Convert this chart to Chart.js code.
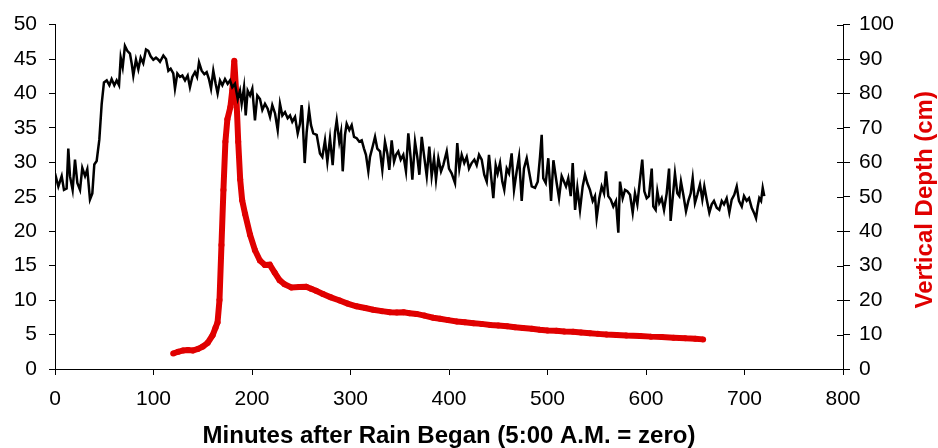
<!DOCTYPE html>
<html><head><meta charset="utf-8">
<script src="https://cdn.jsdelivr.net/npm/chart.js@4"></script>
<style>html,body{margin:0;padding:0;background:#fff}</style>
</head><body>
<canvas id="c" width="938" height="448"></canvas>
<script>
const xTitle = 'Minutes after Rain Began (5:00 A.M. = zero)';
const rightTitle = 'Vertical Depth (cm)';

const blackX = [0,3.4,6.8,9.1,11.8,13.5,15.2,17.9,20.3,22.7,25.4,27.7,30.5,32.8,35.5,37.9,39.9,42.3,45,47.4,49.7,52.5,55.2,57.5,60.2,62.6,65,66.7,68.7,71,73.4,76.1,77.8,79.5,82.2,84.6,87,89.6,92.4,94.7,97.1,99.8,102.5,104.9,106.6,110,112.7,115.1,117.4,120.1,121.8,124.2,126.9,
129.3,132,134.7,137,139.4,142.1,144.2,146.2,148.9,151.6,154,156.3,158.4,160.7,163.1,165.1,167.5,169.9,172.6,175.3,177.7,180,182.7,185.5,187.8,189.5,191.9,193.6,195.6,198,200.3,203,205.4,208.1,210.5,213.2,215.9,218.3,220.6,223.4,226.1,228.4,230.8,233.5,236.2,238.6,240.9,243.7,246.4,248.7,250.4,
251,253.5,255.5,257.9,259.9,262.2,265.7,269,271.4,274.1,276.5,279.2,281.9,284.3,286,288.6,290.4,292.1,294.4,296.1,298.8,301.2,303.6,306.3,308.9,311.4,313.7,315.7,318.1,319.8,322.5,324.9,327.2,330,332.3,335,337.4,339.4,341.8,344.2,346.2,348.5,351,353.6,356.3,358.7,361.1,362.8,365.5,367.8,369.9,372.3,374.6,377.4,380,
382.4,384.8,386.8,389.2,391.9,394.2,397.7,400,402.7,406.1,408.4,410.5,412.9,415.5,418,420.3,423,425.7,428.1,430.5,433.2,435.8,438.3,440.6,442.6,445,447.4,449.4,451.8,454.1,456.1,458.6,460.9,463.6,466,468.7,471.1,473.8,476.1,478.9,481.2,484,487.3,490.1,492.4,494.1,495.7,498.2,500.8,503.6,506,
509.3,511.7,514.4,516.8,518.8,521.1,523.6,525.6,528,530.3,533,535.7,538.1,540.4,543.1,545.9,548.2,549.9,552.6,555,557.4,559.4,561.7,564.2,566.8,569.5,571.9,573.6,576.3,578.7,581,583.8,586.5,588.8,591.2,593.9,596.2,598.3,600.7,603,605.8,607.4,609.8,611.5,613.5,615.9,618.3,621,623.4,625,627.1,629.4,631.8,633.8,
635.5,637.9,640.6,643,645.4,647.4,649.7,652.1,654.8,657.2,659.2,661.6,664.3,666.7,669,671.8,674.4,676.9,679.2,681.9,684.6,687,689.6,692.1,694.4,697.2,699.5,702.2,704.6,707.3,709.6,711.7,713.4,715,716.8,718.5,720.1];

const blackY = [28.4,26.5,28,26,26.2,32,28,26,30.4,27,26,29.2,28,29,24.6,25.5,29.7,30.2,33.3,38.5,41.6,41.9,41.2,42.1,41.2,41.9,41.2,45.2,43.8,46.9,46.2,45.8,44.4,42.6,44.9,43.5,45.2,44.4,46.4,46.2,45.4,44.9,45.2,44.9,44.6,45.5,45,43.3,43.6,42.9,40.7,42.9,42.4,
42.6,41.9,42.6,40.9,42.4,43.1,42.4,44.5,43.3,42.8,43.1,42.1,40.7,43.3,41.4,40,41.9,41.2,42.1,41.4,41.9,40.9,41.4,39.2,40.4,38.5,40.9,36.8,40.4,39.7,40.7,36.1,39.7,39.2,37.6,38.5,37.8,36.6,38.3,37.1,34.7,38.5,36.8,37.3,36.4,36.8,35.9,36.6,34.2,35.6,38.3,
37.5,29.9,34.4,37.6,35.4,34.2,34,31.3,30.8,33.2,30.1,33.5,29.6,34.4,36.1,33,34.4,28.7,34,35.6,34.7,35.4,33.7,33.5,33,33.2,32,31.1,28.7,30.8,32.3,33.7,32,31.6,28.9,33,31.3,28.9,33.2,30.1,31.1,31.6,30.4,31.1,28.7,34.2,30.6,27.5,33,30.8,28.2,33.7,31.1,28,32.3,
28,30.6,27.5,30.6,28.7,29.6,31.6,29.1,28.4,27,32.8,29.1,31.1,29.9,30.8,29.1,29.9,30.4,29.6,31.1,30.4,28.2,27.2,31.1,28.2,24.8,29.6,28.4,29.9,27.2,26,29.1,28.4,31.3,26,28.7,30.8,24.4,29.1,30.6,28.7,26.5,26.3,27.2,30.8,34,27.7,27,30.6,24.4,30.3,
27,24.8,28,27.2,26.5,27.7,25.1,29.9,23.1,26.3,23.1,26.5,28.2,27,26,24.4,25.1,21.9,24.8,26.5,25.5,28.7,25.1,24.6,23.6,24.4,19.8,27.2,24.8,26,25.8,25.3,22.7,25.5,23.9,27.5,30.4,25.8,24.8,25.1,29.1,23.6,23.1,25.8,24.1,24.8,23.1,25.5,29.1,21.5,24.8,28.4,25.5,25.1,
27.2,25.3,22.9,24.4,25.5,27.7,24.1,25.3,26.8,24.6,26.5,24.6,22.7,23.9,24.4,23.4,23.1,24.4,23.9,24.8,22.7,24.6,25.3,26.5,24.4,23.6,25.1,24.4,24.8,23.4,22.7,21.9,23.6,24.8,24.4,26.3,25.1];

const redX = [120,125,130,135,140,145,150,155,160,163,165,167,169,171,173,175,178,180,182,184,186,188,190,193,198,203,208,213,218,223,228,233,240,248,255,260,265,272,280,289,297,306,315,323,332,340,347,354,360,367,375,384,391,399,408,416,425,433,442,450,459,467,475,484,492,500,509,517,526,534,543,551,560,570,580,594,605,616,628,640,650,658];
const redY = [4.5,5.0,5.4,5.5,5.4,5.8,6.5,7.6,9.8,12,13.5,20,36,52,66,72.5,76,81,89.5,80,66,55,49,45,39,34.5,31.5,30.2,30.3,28,25.8,24.6,23.7,23.8,23.9,23.3,22.7,21.8,20.8,19.9,19,18.2,17.7,17.2,16.8,16.5,16.4,16.5,16.2,16,15.5,14.9,14.6,14.2,13.8,13.6,13.3,13.1,12.8,12.6,12.4,12.1,11.9,11.7,11.4,11.2,11.1,10.9,10.8,10.6,10.4,10.2,10,9.9,9.7,9.6,9.4,9.3,9.1,8.9,8.8,8.6];

const xMin = 0, xMax = 800, xStep = 100;
const yMin = 0, yMax = 50, yStep = 5;
const y2Min = 0, y2Max = 100, y2Step = 10;

const FONT = "'Liberation Sans', Arial, sans-serif";
const RED = '#e00000';

const extraTicks = {
  id: 'extraTicks',
  afterDraw(chart) {
    const ctx = chart.ctx, s = chart.scales.y2, a = chart.chartArea;
    ctx.save();
    ctx.strokeStyle = '#000';
    ctx.lineWidth = 1;
    s.ticks.forEach(t => {
      const y = Math.round(s.getPixelForValue(t.value)) + 0.5;
      ctx.beginPath();
      ctx.moveTo(a.right - 6, y);
      ctx.lineTo(a.right, y);
      ctx.stroke();
    });
    ctx.translate(s.right - 13, (a.top + a.bottom) / 2 + 3);
    ctx.rotate(-Math.PI / 2);
    ctx.fillStyle = RED;
    ctx.font = "bold 24px " + FONT;
    ctx.textAlign = 'center';
    ctx.textBaseline = 'middle';
    ctx.fillText(rightTitle, 0, 0);
    ctx.restore();
  }
};

new Chart(document.getElementById('c'), {
  type: 'line',
  data: {
    datasets: [
      {
        label: 'Series 1',
        data: blackX.map((x, i) => ({x, y: blackY[i]})),
        yAxisID: 'y',
        borderColor: '#000',
        borderWidth: 2.5,
        pointRadius: 0,
        tension: 0
      },
      {
        label: rightTitle,
        data: redX.map((x, i) => ({x, y: redY[i]})),
        yAxisID: 'y2',
        borderColor: RED,
        backgroundColor: RED,
        borderWidth: 6,
        pointRadius: 3,
        pointBorderWidth: 0,
        tension: 0
      }
    ]
  },
  options: {
    responsive: false,
    animation: false,
    layout: { padding: { top: 22, left: 0, right: 0, bottom: 0 } },
    plugins: { legend: { display: false }, tooltip: { enabled: false } },
    scales: {
      x: {
        type: 'linear', min: xMin, max: xMax,
        ticks: { stepSize: xStep, color: '#000', font: { family: FONT, size: 21 }, padding: 12, maxRotation: 0 },
        grid: { drawOnChartArea: false, drawTicks: true, tickLength: 6, color: '#000' },
        border: { color: '#000', width: 1 },
        title: { display: true, text: xTitle, color: '#000', font: { family: FONT, size: 24, weight: 'bold', lineHeight: 1 }, padding: { top: 0, bottom: 0 } },
        afterFit(s) { s.height = 79; }
      },
      y: {
        type: 'linear', position: 'left', min: yMin, max: yMax,
        ticks: { stepSize: yStep, color: '#000', font: { family: FONT, size: 21 }, padding: 12 },
        grid: { drawOnChartArea: false, drawTicks: true, tickLength: 6, color: '#000' },
        border: { color: '#000', width: 1 },
        afterFit(s) { s.width = 55; }
      },
      y2: {
        type: 'linear', position: 'right', min: y2Min, max: y2Max,
        ticks: { stepSize: y2Step, color: '#000', font: { family: FONT, size: 21 }, padding: 9 },
        grid: { drawOnChartArea: false, drawTicks: true, tickLength: 7, color: '#000' },
        border: { color: '#000', width: 1 },
        afterFit(s) { s.width = 95; }
      }
    }
  },
  plugins: [extraTicks]
});
</script>
</body></html>
